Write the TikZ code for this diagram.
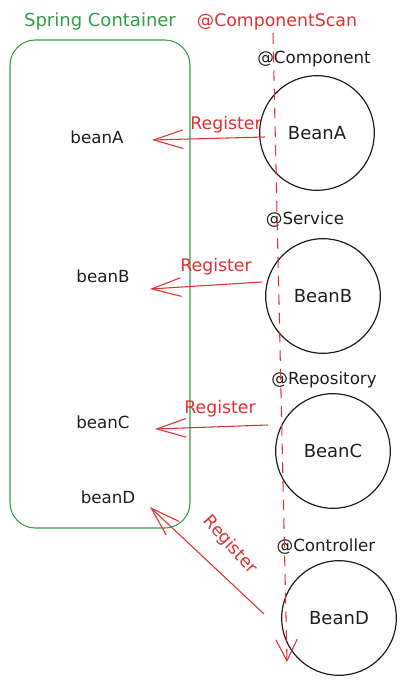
\documentclass[tikz,border=0pt]{standalone}
\usepackage{fontspec}
\setmainfont{DejaVu Sans}
\usetikzlibrary{arrows.meta}
\definecolor{exred}{HTML}{E03131}
\definecolor{exgreen}{HTML}{2F9E44}
\definecolor{exblack}{HTML}{1E1E1E}
\tikzset{
  bean/.style={circle, draw=exblack, line width=0.9pt, minimum size=86pt, inner sep=0pt, font=\fontsize{13.5}{15}\selectfont, text=exblack},
  inbean/.style={font=\fontsize{12.5}{14}\selectfont, text=exblack},
  anno/.style={font=\fontsize{12.5}{14}\selectfont, text=exblack},
  reg/.style={draw=exred, line width=0.8pt, -{Straight Barb[length=22pt, width=14pt, line width=0.8pt]}},
  reglabel/.style={font=\fontsize{13}{14}\selectfont, text=exred},
}
\begin{document}
\begin{tikzpicture}[x=0.75pt, y=-0.75pt]
\useasboundingbox (0,0) rectangle (405,684);
% container
\node[font=\fontsize{13.5}{15}\selectfont, text=exgreen] (title) at (100,22) {Spring Container};
\draw[exgreen, line width=0.8pt, rounded corners=19pt] (10,40) rectangle (190,528);
\node[exred, font=\fontsize{13}{15}\selectfont] (scan) at (277,22) {@ComponentScan};
% container contents
\node[inbean] (ba) at (97,137) {beanA};
\node[inbean] (bb) at (103,276) {beanB};
\node[inbean] (bc) at (103,422) {beanC};
\node[inbean] (bd) at (108,497) {beanD};
% beans
\node[bean] (A) at (317,133) {BeanA};
\node[bean] (B) at (323,296) {BeanB};
\node[bean] (C) at (333,451) {BeanC};
\node[bean] (D) at (339,618) {BeanD};
\node[anno] (la) at (314,59) {@Component};
\node[anno] (lb) at (305,220) {@Service};
\node[anno] (lc) at (324,380) {@Repository};
\node[anno] (ld) at (326,547) {@Controller};
% scan line
\coordinate (s0) at (273,33);
\coordinate (s1) at (287,662);
\draw[exred, line width=0.8pt, dash pattern=on 8pt off 6pt, -{Straight Barb[length=16pt, width=16pt, line width=0.8pt]}] (s0) -- (s1);
% register arrows
\coordinate (ea) at (152,140);
\coordinate (eb) at (150,289);
\coordinate (ec) at (155,429);
\coordinate (ed) at (150,507);
\coordinate (sa) at (265,137);
\coordinate (sb) at (262,282);
\coordinate (sc) at (268,425);
\coordinate (sd) at (264,614);
\draw[reg] (sa) -- (ea);
\draw[reg] (sb) -- (eb);
\draw[reg] (sc) -- (ec);
\draw[reg] (sd) -- (ed);
\node[reglabel] (ra) at (226,125) {Register};
\node[reglabel] (rb) at (216,267) {Register};
\node[reglabel] (rc) at (220,409) {Register};
\node[reglabel, rotate=-48] (rd) at (230,545) {Register};
\end{tikzpicture}
\end{document}
